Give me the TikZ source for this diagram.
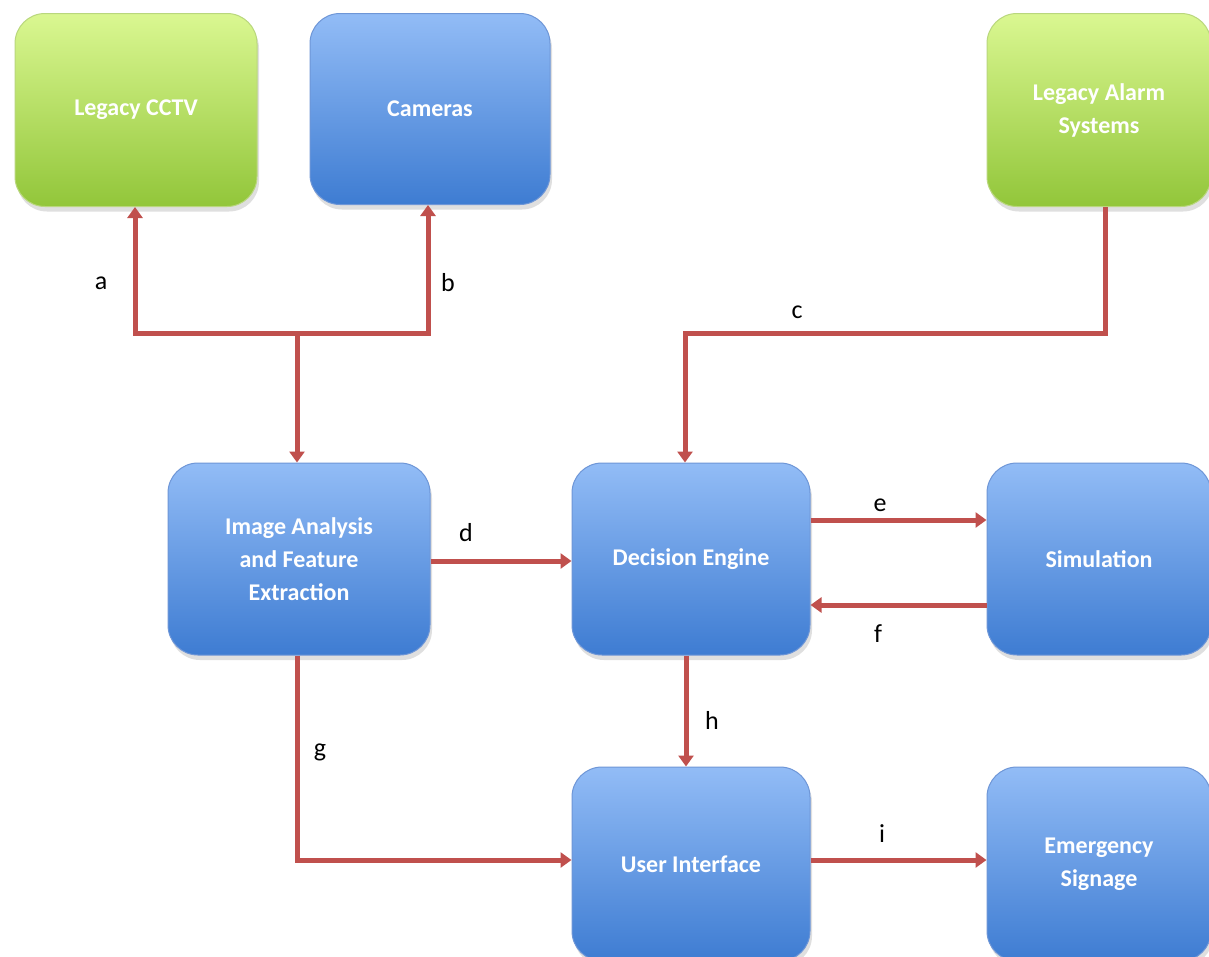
\documentclass[tikz,border=0pt]{standalone}
\usepackage{fontspec}
\setmainfont{Carlito}
\usetikzlibrary{arrows.meta,shadows,calc}
\definecolor{bluetop}{RGB}{146,188,246}
\definecolor{bluebot}{RGB}{62,124,210}
\definecolor{blueline}{RGB}{110,150,215}
\definecolor{greentop}{RGB}{218,247,145}
\definecolor{greenbot}{RGB}{146,198,58}
\definecolor{greenline}{RGB}{185,215,125}
\definecolor{arrowred}{RGB}{192,80,77}
\tikzset{
  box/.style={rounded corners=30pt, inner sep=0pt, text=white,
    font=\bfseries\fontsize{24}{33}\selectfont, align=center,
    drop shadow={shadow xshift=2pt, shadow yshift=-5pt, opacity=0.25}},
  bluebox/.style={box, draw=blueline, line width=1pt, top color=bluetop, bottom color=bluebot},
  greenbox/.style={box, draw=greenline, line width=1pt, top color=greentop, bottom color=greenbot},
  conn/.style={draw=arrowred, line width=5pt, line join=miter, -{Triangle[length=11pt,width=15pt]}},
  plainconn/.style={draw=arrowred, line width=5pt, line join=miter},
  lbl/.style={font=\fontsize{26}{30}\selectfont, text=black}
}
\begin{document}
\begin{tikzpicture}[x=1pt,y=-1pt]
\useasboundingbox (0,0) rectangle (1209,956);
\fill[white] (0,0) rectangle (1209,956);
\begin{scope}
\clip (0,0) rectangle (1209,956);
% boxes
\node[greenbox, minimum width=242pt, minimum height=193pt] (cctv) at (136,110) {Legacy CCTV};
\node[bluebox, minimum width=240pt, minimum height=191pt] (cam) at (430,109) {Cameras};
\node[greenbox, minimum width=224pt, minimum height=193pt] (alarm) at (1099,110) {Legacy Alarm\\Systems};
\node[bluebox, minimum width=262pt, minimum height=192pt] (ia) at (299,559) {Image Analysis\\and Feature\\Extraction};
\node[bluebox, minimum width=238pt, minimum height=192pt] (de) at (691,559) {Decision Engine};
\node[bluebox, minimum width=224pt, minimum height=192pt] (sim) at (1099,559) {Simulation};
\node[bluebox, minimum width=238pt, minimum height=194pt] (ui) at (691,864) {User Interface};
\node[bluebox, minimum width=224pt, minimum height=194pt] (es) at (1099,864) {Emergency\\Signage};
\end{scope}
% junction points
\coordinate (j) at (297,333);
\coordinate (ja) at (135,333);
\coordinate (jb) at (428,333);
\coordinate (jc1) at (1105,333);
\coordinate (jc2) at (685,333);
\coordinate (jg) at (297,860);
% connectors
\draw[conn] (j) -- (ja) -- (ja |- cctv.south);
\draw[conn] (j) -- (jb) -- (jb |- cam.south);
\draw[conn] (j) -- (j |- ia.north);
\draw[conn] (jc1 |- alarm.south) -- (jc1) -- (jc2) -- (jc2 |- de.north);
\draw[conn] (ia.east |- 0,561) -- (de.west |- 0,561);
\draw[conn] (de.east |- 0,520) -- (sim.west |- 0,520);
\draw[conn] (sim.west |- 0,605) -- (de.east |- 0,605);
\draw[conn] (de.south -| 686,0) -- (ui.north -| 686,0);
\draw[conn] (ia.south -| jg) -- (jg) -- (ui.west |- jg);
\draw[conn] (ui.east |- 0,860) -- (es.west |- 0,860);
% labels
\node[lbl] (la) at (101,283) {a};
\node[lbl] (lb) at (448,283) {b};
\node[lbl] (lc) at (797,312) {c};
\node[lbl] (ld) at (466,533) {d};
\node[lbl] (le) at (880,505) {e};
\node[lbl] (lf) at (878,634) {f};
\node[lbl] (lg) at (320,752) {g};
\node[lbl] (lh) at (712,720) {h};
\node[lbl] (li) at (882,834) {i};
\end{tikzpicture}
\end{document}
